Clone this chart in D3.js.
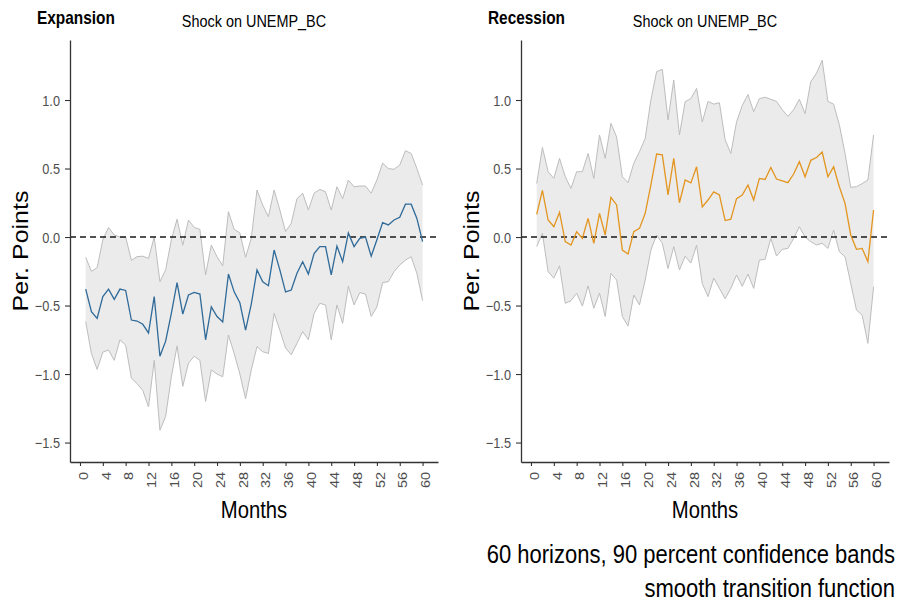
<!DOCTYPE html>
<html lang="en">
<head>
  <meta charset="UTF-8">
  <title>Shock on UNEMP_BC - Expansion / Recession</title>
  <script src="https://d3js.org/d3.v7.min.js"></script>
  <style>
    body { margin: 0; background: #fff; }
    svg { display: block; font-family: "Liberation Sans", Arial, sans-serif; }
  </style>
</head>
<body>
<script>
  // horizons (months)
  const months = [1,2,3,4,5,6,7,8,9,10,11,12,13,14,15,16,17,18,19,20,
    21,22,23,24,25,26,27,28,29,30,31,32,33,34,35,36,37,38,39,40,
    41,42,43,44,45,46,47,48,49,50,51,52,53,54,55,56,57,58,59,60];
  const xTicks = [0,4,8,12,16,20,24,28,32,36,40,44,48,52,56,60];
  const yTicks = [-1.5,-1.0,-0.5,0.0,0.5,1.0];

  // Expansion regime
  const expMean = [-0.38,-0.545,-0.594,-0.435,-0.38,-0.455,-0.38,-0.39,-0.606,-0.613,
    -0.637,-0.70,-0.435,-0.87,-0.76,-0.557,-0.333,-0.562,-0.423,-0.404,
    -0.416,-0.75,-0.51,-0.58,-0.62,-0.27,-0.40,-0.48,-0.68,-0.49,
    -0.24,-0.326,-0.355,-0.095,-0.24,-0.40,-0.387,-0.265,-0.18,-0.27,
    -0.12,-0.07,-0.07,-0.277,-0.066,-0.18,0.03,-0.07,-0.01,0.0,
    -0.14,-0.02,0.105,0.088,0.124,0.144,0.24,0.24,0.136,-0.034];
  const expUpper = [-0.148,-0.25,-0.224,-0.02,0.07,0.015,0.0,0.0,-0.17,-0.143,
    -0.14,-0.156,0.0,-0.326,-0.24,-0.02,0.13,-0.06,0.124,0.07,
    0.056,-0.277,-0.058,-0.144,-0.21,0.185,0.056,0.03,-0.148,-0.01,
    0.343,0.233,0.148,0.343,0.197,0.04,0.10,0.28,0.32,0.197,
    0.32,0.348,0.33,0.197,0.367,0.28,0.416,0.367,0.372,0.372,
    0.32,0.416,0.54,0.50,0.494,0.525,0.63,0.61,0.50,0.38];
  const expLower = [-0.618,-0.85,-0.966,-0.84,-0.825,-0.90,-0.75,-0.79,-1.03,-1.07,
    -1.12,-1.24,-0.90,-1.41,-1.31,-1.02,-0.795,-1.09,-0.92,-0.87,
    -0.90,-1.20,-0.97,-1.0,-1.02,-0.715,-0.85,-1.0,-1.18,-0.97,
    -0.80,-0.837,-0.85,-0.557,-0.68,-0.81,-0.86,-0.776,-0.69,-0.75,
    -0.557,-0.484,-0.496,-0.75,-0.496,-0.63,-0.36,-0.496,-0.406,-0.416,
    -0.58,-0.51,-0.333,-0.326,-0.253,-0.204,-0.168,-0.144,-0.265,-0.465];

  // Recession regime
  const recMean = [0.165,0.34,0.124,0.075,0.18,-0.034,-0.058,0.039,-0.01,0.136,
    -0.046,0.173,0.015,0.29,0.234,-0.095,-0.124,0.039,0.063,0.173,
    0.38,0.606,0.60,0.307,0.574,0.25,0.416,0.395,0.513,0.22,
    0.27,0.33,0.307,0.12,0.13,0.28,0.307,0.38,0.27,0.428,
    0.42,0.508,0.423,0.41,0.397,0.46,0.55,0.44,0.56,0.58,
    0.62,0.44,0.513,0.367,0.246,0.015,-0.09,-0.083,-0.18,0.197];
  const recUpper = [0.39,0.654,0.477,0.428,0.574,0.44,0.355,0.477,0.477,0.61,
    0.428,0.745,0.574,0.83,0.73,0.44,0.397,0.538,0.623,0.72,
    1.0,1.207,1.224,0.854,1.146,0.745,0.988,1.01,1.085,0.84,
    0.99,0.97,0.98,0.71,0.61,0.84,0.96,1.04,0.915,1.01,
    1.02,1.005,0.99,0.93,0.88,0.93,1.005,0.90,1.134,1.195,
    1.29,0.99,0.97,0.82,0.61,0.363,0.367,0.39,0.416,0.745];
  const recLower = [-0.07,0.027,-0.253,-0.30,-0.21,-0.484,-0.465,-0.41,-0.504,-0.357,
    -0.52,-0.41,-0.58,-0.265,-0.314,-0.58,-0.65,-0.423,-0.496,-0.314,
    -0.095,0.015,-0.046,-0.23,-0.07,-0.24,-0.14,-0.19,-0.06,-0.34,
    -0.435,-0.30,-0.375,-0.45,-0.375,-0.277,-0.36,-0.27,-0.375,-0.168,
    -0.163,-0.01,-0.139,-0.09,-0.083,-0.01,0.075,0.0,-0.034,-0.058,
    -0.046,-0.083,0.05,-0.107,-0.144,-0.338,-0.533,-0.57,-0.776,-0.363];

  const W = 906, H = 605;
  const SX = 0.88; // the picture is squeezed horizontally, text too

  const svg = d3.select('body').append('svg')
    .attr('width', W)
    .attr('height', H);

  // text helper: squeezed text anchored at (x, y)
  function label(x, y, str, size, opts) {
    opts = opts || {};
    const rot = opts.rotate ? ' rotate(' + opts.rotate + ')' : '';
    return svg.append('text')
      .attr('transform', 'translate(' + x + ',' + y + ') scale(' + SX + ',1)' + rot)
      .attr('text-anchor', opts.anchor || 'start')
      .attr('font-size', size)
      .attr('font-weight', opts.bold ? 'bold' : 'normal')
      .attr('fill', opts.color || '#000')
      .text(str);
  }

  function panel(left, name, mean, upper, lower, lineColor) {
    const right = left + 368;
    const top = 40, bottom = 462;

    const x = d3.scaleLinear().domain([-1.75, 62.7]).range([left, right]);
    const y = d3.scaleLinear().domain([-1.642, 1.438]).range([bottom, top]);

    const rows = months.map((m, i) => ({ m: m, mean: mean[i], up: upper[i], lo: lower[i] }));

    const g = svg.append('g');

    // confidence band
    g.append('path')
      .datum(rows)
      .attr('fill', '#ebebeb')
      .attr('d', d3.area().x(d => x(d.m)).y0(d => y(d.lo)).y1(d => y(d.up)));

    ['up', 'lo'].forEach(k => {
      g.append('path')
        .datum(rows)
        .attr('fill', 'none')
        .attr('stroke', '#bdbdbd')
        .attr('stroke-width', 1)
        .attr('d', d3.line().x(d => x(d.m)).y(d => y(d[k])));
    });

    // zero line
    g.append('line')
      .attr('x1', left).attr('x2', right)
      .attr('y1', y(0)).attr('y2', y(0))
      .attr('stroke', '#1a1a1a')
      .attr('stroke-width', 1.4)
      .attr('stroke-dasharray', '6,4');

    // impulse response
    g.append('path')
      .datum(rows)
      .attr('fill', 'none')
      .attr('stroke', lineColor)
      .attr('stroke-width', 1.3)
      .attr('d', d3.line().x(d => x(d.m)).y(d => y(d.mean)));

    // y axis
    const ya = g.append('g')
      .attr('transform', 'translate(' + left + ',0)')
      .call(d3.axisLeft(y).tickValues(yTicks).tickFormat(d3.format('.1f'))
        .tickSize(5).tickSizeOuter(0));
    ya.selectAll('text')
      .attr('x', null).attr('dy', '0.35em')
      .attr('transform', 'translate(-10,0) scale(' + SX + ',1)')
      .attr('fill', '#4d4d4d')
      .attr('font-size', 14.5)
      .attr('font-family', null);

    // x axis
    const xa = g.append('g')
      .attr('transform', 'translate(0,' + bottom + ')')
      .call(d3.axisBottom(x).tickValues(xTicks).tickSize(4).tickSizeOuter(0));
    xa.selectAll('text')
      .attr('y', null).attr('dy', null)
      .attr('text-anchor', 'end')
      .attr('dominant-baseline', 'central')
      .attr('transform', 'translate(3,10) scale(' + SX + ',1) rotate(-90)')
      .attr('fill', '#4d4d4d')
      .attr('font-size', 14.5)
      .attr('font-family', null);

    [ya, xa].forEach(a => {
      a.select('.domain').attr('stroke', '#333').attr('stroke-width', 1.3);
      a.selectAll('.tick line').attr('stroke', '#333').attr('stroke-width', 1.1);
    });

    // titles
    label(left - 33, 24, name, 17.5, { bold: true });
    label((left + right) / 2, 27, 'Shock on UNEMP_BC', 16.4, { anchor: 'middle' });
    label(left - 42, (top + bottom) / 2, 'Per. Points', 25, { anchor: 'middle', rotate: -90 });
    label((left + right) / 2, 518, 'Months', 23, { anchor: 'middle' });
  }

  panel(70, 'Expansion', expMean, expUpper, expLower, '#2f6a99');
  panel(521, 'Recession', recMean, recUpper, recLower, '#e3951f');

  label(895, 563, '60 horizons, 90 percent confidence bands', 25, { anchor: 'end' });
  label(895, 597, 'smooth transition function', 25, { anchor: 'end' });
</script>
</body>
</html>
